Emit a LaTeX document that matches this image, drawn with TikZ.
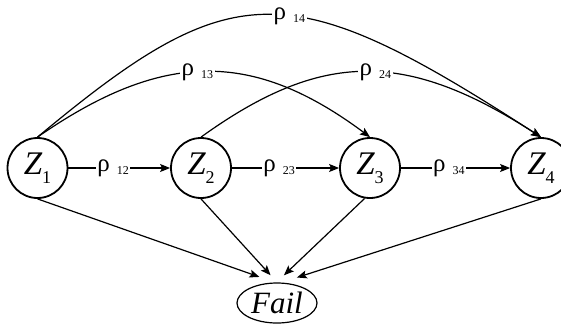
\documentclass[tikz,border=0pt]{standalone}
\usepackage{fontspec}
\setmainfont{Liberation Serif}
\usetikzlibrary{arrows.meta,shapes.geometric}

\tikzset{
  state/.style={circle, draw, line width=1.8pt, minimum size=60pt, inner sep=0pt},
  fail/.style={ellipse, draw, line width=1.2pt, minimum width=80pt, minimum height=40pt, inner sep=0pt, outer sep=8pt},
  arr/.style={line width=1.2pt, -{Stealth[length=10pt,width=8pt,inset=2pt]}},
  lbl/.style={fill=white, inner sep=1.5pt}
}
\newcommand{\zname}[1]{{\fontsize{33}{33}\selectfont\itshape Z}\raisebox{-9pt}{\fontsize{18}{18}\selectfont #1}}
\newcommand{\rholbl}[1]{{\fontsize{25}{25}\selectfont ρ}\hspace{7pt}\raisebox{-3pt}{\fontsize{12}{12}\selectfont #1}}

\begin{document}
\begin{tikzpicture}[x=1pt,y=1pt]
        \useasboundingbox (0,0) rectangle (561,325);

        \node[state] (z1) at (37.5,157) {\zname{1}};
        \node[state] (z2) at (201,157) {\zname{2}};
        \node[state] (z3) at (370,157) {\zname{3}};
        \node[state] (z4) at (541,157) {\zname{4}};
        \node[fail] (fail) at (277,22) {\fontsize{31}{31}\selectfont\itshape Fail};

        % straight chain
        \draw[arr] (z1) -- node[lbl,pos=0.44] {\rholbl{12}} (z2);
        \draw[arr] (z2) -- node[lbl,pos=0.44] {\rholbl{23}} (z3);
        \draw[arr] (z3) -- node[lbl,pos=0.44] {\rholbl{34}} (z4);

        % arcs over the top
        \draw[arr] (z1.north) .. controls (233,351) and (289,351) .. node[lbl,pos=0.55] {\rholbl{14}} (z4.north);
        \draw[arr] (z1.north) .. controls (163,275) and (253,275) .. node[lbl,pos=0.47] {\rholbl{13}} (z3.north);
        \draw[arr] (z2.north) .. controls (322,275) and (406,275) .. node[lbl,pos=0.53] {\rholbl{24}} (z4.north);

        % down to fail
        \draw[arr] (z1.south) -- (fail.124);
        \draw[arr] (z2.south) -- (fail.103);
        \draw[arr] (z3.-100) -- (fail.76);
        \draw[arr] (z4.south) -- (fail.52);
    \end{tikzpicture}
\end{document}
